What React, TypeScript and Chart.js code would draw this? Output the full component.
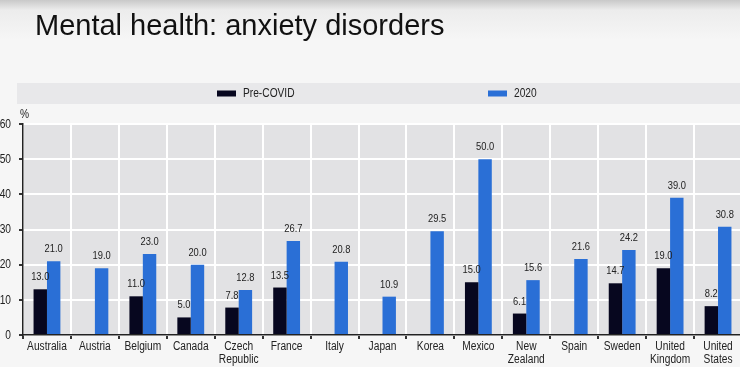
import React, { useEffect, useRef } from "react";
import { Chart, registerables } from "chart.js";

Chart.register(...registerables);

const TITLE = "Mental health: anxiety disorders";
const UNIT = "%";
const seriesNames = ["Pre-COVID", "2020"];
const categories: string[][] = [
  ["Australia"],
  ["Austria"],
  ["Belgium"],
  ["Canada"],
  ["Czech", "Republic"],
  ["France"],
  ["Italy"],
  ["Japan"],
  ["Korea"],
  ["Mexico"],
  ["New", "Zealand"],
  ["Spain"],
  ["Sweden"],
  ["United", "Kingdom"],
  ["United", "States"],
];
const preCovid: (number | null)[] = [13.0, null, 11.0, 5.0, 7.8, 13.5, null, null, null, 15.0, 6.1, null, 14.7, 19.0, 8.2];
const y2020: number[] = [21.0, 19.0, 23.0, 20.0, 12.8, 26.7, 20.8, 10.9, 29.5, 50.0, 15.6, 21.6, 24.2, 39.0, 30.8];
const yMin = 0;
const yMax = 60;
const yStep = 10;

const FONT = "'Liberation Sans', Arial, Helvetica, sans-serif";
const SX = 0.85; // horizontal condensing of chart text (narrow face look)
const COLORS = ["#07071f", "#2a6fd6"];

function narrowText(ctx: CanvasRenderingContext2D, text: string, x: number, y: number) {
  ctx.save();
  ctx.translate(x, y);
  ctx.scale(SX, 1);
  ctx.fillText(text, 0, 0);
  ctx.restore();
}

const decor = {
  id: "decor",
  beforeDraw(chart: any) {
    const { ctx, chartArea: a } = chart;
    ctx.save();
    // legend band
    ctx.fillStyle = "#e8e8ea";
    ctx.fillRect(17, 83, chart.width - 17, 21);
    // plot background
    ctx.fillStyle = "#e2e2e4";
    ctx.fillRect(a.left, a.top, a.right - a.left, a.bottom - a.top);
    // title
    ctx.fillStyle = "#111";
    ctx.font = `29px ${FONT}`;
    ctx.textAlign = "left";
    ctx.textBaseline = "alphabetic";
    ctx.fillText(TITLE, 35, 35);
    // legend items
    const lx = [217, 488];
    chart.data.datasets.forEach((ds: any, i: number) => {
      ctx.fillStyle = ds.backgroundColor;
      ctx.fillRect(lx[i], 90.5, 19, 6);
      ctx.fillStyle = "#222";
      ctx.font = `12px ${FONT}`;
      ctx.textAlign = "left";
      ctx.textBaseline = "middle";
      narrowText(ctx, ds.label, lx[i] + 26, 94);
    });
    // unit
    ctx.font = `12px ${FONT}`;
    ctx.textBaseline = "alphabetic";
    ctx.textAlign = "left";
    ctx.fillStyle = "#222";
    narrowText(ctx, UNIT, 20, 118);
    ctx.restore();
  },
  afterDraw(chart: any) {
    const { ctx, chartArea: a } = chart;
    const xs = chart.scales.x;
    const ys = chart.scales.y;
    ctx.save();
    ctx.fillStyle = "#222";
    ctx.font = `12px ${FONT}`;
    // x labels
    ctx.textAlign = "center";
    ctx.textBaseline = "alphabetic";
    xs.ticks.forEach((t: any, i: number) => {
      const x = xs.getPixelForTick(i);
      const lab = chart.data.labels[t.value];
      const lines = Array.isArray(lab) ? lab : [lab];
      lines.forEach((ln: string, k: number) => narrowText(ctx, ln, x, a.bottom + 14.5 + k * 13.5));
    });
    // y labels
    ctx.textAlign = "right";
    ctx.textBaseline = "middle";
    ys.ticks.forEach((t: any) => {
      narrowText(ctx, String(t.value), a.left - 12, ys.getPixelForValue(t.value) + 0.5);
    });
    ctx.restore();
  },
  afterDatasetsDraw(chart: any) {
    const { ctx } = chart;
    ctx.save();
    ctx.font = `11px ${FONT}`;
    ctx.fillStyle = "#222";
    ctx.textAlign = "center";
    ctx.textBaseline = "alphabetic";
    chart.data.datasets.forEach((ds: any, i: number) => {
      const meta = chart.getDatasetMeta(i);
      meta.data.forEach((bar: any, j: number) => {
        const v = ds.data[j];
        if (v == null) return;
        narrowText(ctx, Number(v).toFixed(1), bar.x, bar.y - 9);
      });
    });
    ctx.restore();
  },
};

export default function App() {
  const ref = useRef<HTMLCanvasElement | null>(null);
  useEffect(() => {
    if (!ref.current) return;
    const chart = new Chart(ref.current, {
      type: "bar",
      data: {
        labels: categories,
        datasets: [
          { label: seriesNames[0], data: preCovid, backgroundColor: COLORS[0], borderWidth: 0 },
          { label: seriesNames[1], data: y2020, backgroundColor: COLORS[1], borderWidth: 0 },
        ],
      },
      options: {
        responsive: false,
        animation: false,
        devicePixelRatio: 1,
        layout: { padding: { top: 124, right: 18, left: 0, bottom: 0 } },
        datasets: { bar: { categoryPercentage: 0.56, barPercentage: 1.0 } },
        plugins: { legend: { display: false }, title: { display: false }, tooltip: { enabled: false } },
        scales: {
          x: {
            grid: { offset: true, color: "#ffffff", lineWidth: 2, tickColor: "#333", tickLength: 4, drawTicks: true },
            border: { color: "#222", width: 1.5 },
            ticks: { display: false, autoSkip: false, maxRotation: 0 },
            afterFit: (s: any) => {
              s.height = 32;
            },
          },
          y: {
            min: yMin,
            max: yMax,
            grid: { color: "#ffffff", lineWidth: 2, tickColor: "#333", tickLength: 4, drawTicks: true },
            border: { color: "#222", width: 1.5 },
            ticks: { display: false, stepSize: yStep },
            afterFit: (s: any) => {
              s.width = 23;
            },
          },
        },
      },
      plugins: [decor],
    });
    return () => chart.destroy();
  }, []);
  return (
    <div
      style={{
        position: "fixed",
        left: 0,
        top: 0,
        width: 740,
        height: 367,
        overflow: "hidden",
        background: "linear-gradient(#c9c9c9 0px, #ececec 10px, #f6f6f6 40px, #f6f6f6 100%)",
      }}
    >
      <canvas ref={ref} width={760} height={367} style={{ width: 760, height: 367, display: "block" }} />
    </div>
  );
}
